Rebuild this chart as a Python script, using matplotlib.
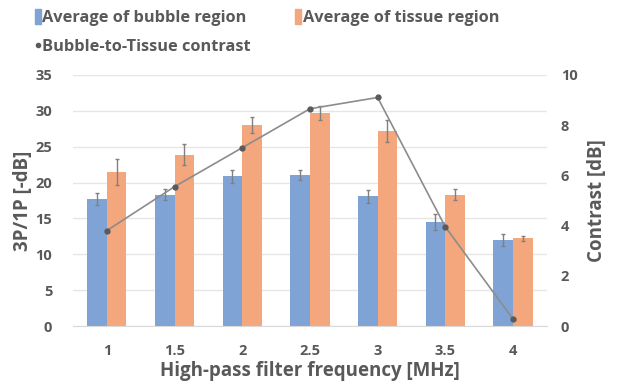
import matplotlib

matplotlib.use("Agg")
import matplotlib.pyplot as plt
import numpy as np
from matplotlib.lines import Line2D
from matplotlib.patches import Patch

plt.rcParams["font.family"] = ["Open Sans", "DejaVu Sans"]
plt.rcParams["font.weight"] = "bold"
plt.rcParams["axes.labelweight"] = "bold"

freqs = ["1", "1.5", "2", "2.5", "3", "3.5", "4"]
bubble = [17.7, 18.3, 20.9, 21.0, 18.1, 14.5, 12.0]
bubble_err = [0.8, 0.8, 0.9, 0.7, 0.9, 1.1, 0.8]
tissue = [21.5, 23.9, 28.0, 29.7, 27.2, 18.3, 12.2]
tissue_err = [1.8, 1.4, 1.1, 1.0, 1.5, 0.8, 0.4]
contrast = [3.8, 5.55, 7.1, 8.65, 9.1, 3.95, 0.28]

BLUE = "#7fa3d5"
ORANGE = "#f4a67d"
TEXT = "#595959"
GRID = "#e6e6e6"

fig = plt.figure(figsize=(6.17, 3.9), dpi=100)
ax = fig.add_axes([0.1183, 0.164, 0.768, 0.644])
ax2 = ax.twinx()

x = np.arange(len(freqs))
w = 0.29
err_kw = dict(ecolor="#808080", elinewidth=1, capsize=1.5, capthick=1)
ax.bar(x - w / 2, bubble, w, yerr=bubble_err, color=BLUE, error_kw=err_kw, zorder=2)
ax.bar(x + w / 2, tissue, w, yerr=tissue_err, color=ORANGE, error_kw=err_kw, zorder=2)
ax2.plot(x, contrast, color="#8c8c8c", lw=1.2, marker="o", ms=3.5,
         mfc="#5a5a5a", mec="#5a5a5a", zorder=3)

ax.set_xlim(-0.5, len(freqs) - 0.5)
ax.set_ylim(0, 35)
ax.set_yticks(range(0, 36, 5))
ax2.set_ylim(0, 10)
ax2.set_yticks(range(0, 11, 2))
ax.set_xticks(x)
ax.set_xticklabels(freqs)

ax.grid(axis="y", color=GRID, lw=1, zorder=0)
ax.set_axisbelow(True)
for a in (ax, ax2):
    for s in a.spines.values():
        s.set_visible(False)
    a.tick_params(length=0, labelsize=10.5, labelcolor=TEXT)
    for lbl in a.get_xticklabels() + a.get_yticklabels():
        lbl.set_fontweight("bold")
ax.spines["bottom"].set_visible(True)
ax.spines["bottom"].set_color("#d9d9d9")
ax.tick_params(axis="x", pad=13)
ax.tick_params(axis="y", pad=15)
ax2.tick_params(axis="y", pad=10)

ax.set_ylabel("3P/1P [-dB]", fontsize=13.5, color=TEXT, fontweight="bold", labelpad=2)
ax2.set_ylabel("Contrast [dB]", fontsize=13.5, color=TEXT, fontweight="bold", labelpad=7)
ax.set_xlabel("High-pass filter frequency [MHz]", fontsize=13.5, color=TEXT,
              fontweight="bold", labelpad=2)

handles = [
    Patch(color=BLUE),
    Line2D([], [], color="#8c8c8c", marker="o", ms=3, lw=0, mfc="#5a5a5a", mec="#5a5a5a"),
    Patch(color=ORANGE),
]
labels = ["Average of bubble region", "Bubble-to-Tissue contrast", "Average of tissue region"]
leg = fig.legend(handles, labels, ncol=2, loc="upper left", bbox_to_anchor=(0.042, 1.0),
                 frameon=False, prop={"size": 11.8, "weight": "bold"},
                 handlelength=0.35, handleheight=1.0,
                 handletextpad=0.1, columnspacing=2.7, labelspacing=0.75, borderaxespad=0.15)
for t in leg.get_texts():
    t.set_color(TEXT)

fig.savefig("out.png", dpi=100)
